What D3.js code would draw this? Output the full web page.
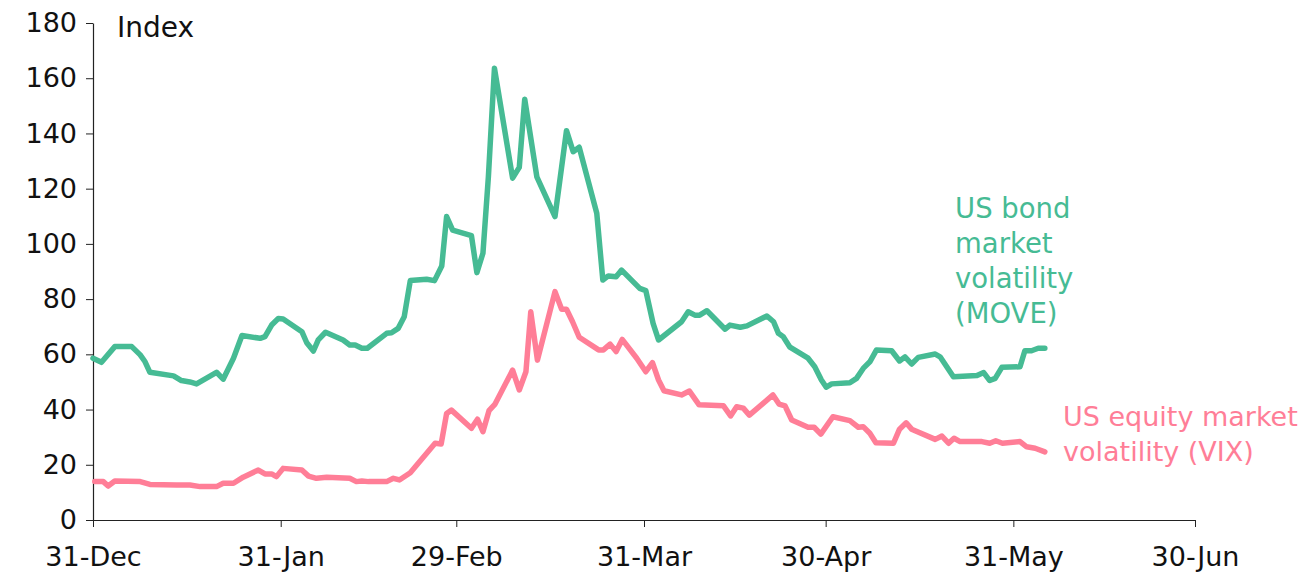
<!DOCTYPE html>
<html>
<head>
<meta charset="utf-8">
<script src="https://cdn.jsdelivr.net/npm/d3@7"></script>
<style>
  body { margin: 0; background: #fff; }
  text { font-family: "DejaVu Sans", sans-serif; }
</style>
</head>
<body>
<div id="chart"></div>
<script>
var width = 1305;
var height = 576;
var margin = {top: 23, right: 110, bottom: 56, left: 93};

// days counted from 31-Dec-2019
var startDate = "2019-12-31";
var endDate = "2020-06-30";
var tickDates = ["2019-12-31", "2020-01-31", "2020-02-29", "2020-03-31", "2020-04-30", "2020-05-31", "2020-06-30"];
var yTicks = [0, 20, 40, 60, 80, 100, 120, 140, 160, 180];

// US bond market volatility (MOVE)
var moveDays = [0, 1.4, 3.6, 6.4, 7.8, 8.6, 9.4, 13.3, 14.6, 16, 17.1, 20.4, 21.5, 23.2, 24.6, 27.6, 28.4, 29.5, 30.6, 31.4,
  34.5, 35.3, 36.4, 37.2, 38.4, 41.3, 42.4, 43.3, 44.4, 45.3, 48.5, 49.3, 50.4, 51.4, 52.4, 55.1, 56.4, 57.6, 58.4, 59.4,
  62.5, 63.4, 64.4, 65.3, 66.3, 69.3, 70.4, 71.3, 73.3, 76.3, 78.2, 79.3, 80.3, 83.2, 84.2, 85.1, 86.4, 87.3, 90.3, 91.3,
  92.5, 93.4, 97.2, 98.3, 99.4, 100.2, 101.4, 104.4, 105.2, 106.9, 108, 111.3, 112.4, 113.2, 114, 115.1, 118.1, 119.2, 120.3, 121.1,
  122, 125, 126.1, 127.2, 128.3, 129.4, 131.9, 133.2, 134.1, 135.2, 136.3, 139.1, 139.9, 142.1, 146, 147.1, 148.1, 149, 150.1, 153.1,
  153.9, 155, 156.1, 157.2];
var moveValues = [58.6, 57.1, 62.8, 62.8, 59.8, 57.3, 53.5, 52.2, 50.5, 50, 49.3, 53.5, 51, 58.6, 66.8, 65.8, 66.4, 70.6, 73, 72.8,
  68.2, 64.2, 61.2, 65.2, 68, 65.2, 63.4, 63.4, 62.2, 62.2, 67.6, 67.8, 69.4, 73.6, 86.7, 87.2, 86.7, 92, 109.9, 105,
  103, 89.6, 96.6, 124.3, 163.6, 123.8, 127.7, 152.4, 124.3, 109.9, 141, 133.4, 135, 111.1, 86.9, 88.4, 88.1, 90.5, 83.9, 83.1,
  71.2, 65.2, 71.8, 75.4, 74.2, 74.2, 75.8, 69.1, 70.6, 69.8, 70.3, 73.9, 71.8, 67.6, 66.4, 62.6, 58.6, 55.5, 50.7, 48.1,
  49.3, 49.7, 51.3, 54.9, 57.3, 61.6, 61.3, 57.6, 59.1, 56.5, 58.9, 60.1, 59.1, 51.9, 52.3, 53.4, 50.5, 51.3, 55.3, 55.5,
  61.3, 61.3, 62.2, 62.2];

// US equity market volatility (VIX)
var vixDays = [0.3, 1.7, 2.5, 3.6, 7.8, 9.4, 13.8, 16, 17.7, 20.4, 21.5, 23.2, 24.8, 27.3, 28.4, 29.5, 30.3, 31.4, 34.5, 35.6,
  36.9, 38.6, 42.4, 43.5, 44.4, 45.5, 48.5, 49.6, 50.6, 52.4, 56.5, 57.5, 58.4, 59.2, 62.5, 63.5, 64.4, 65.4, 66.4, 69.3,
  70.4, 71.5, 72.3, 73.4, 76.3, 77.4, 78.2, 79.2, 80.3, 83.5, 84.3, 85.4, 86.4, 87.4, 89.8, 91.3, 92.4, 93.4, 94.3, 97.2,
  98.5, 100.1, 104.1, 105.3, 106.3, 107.4, 108.4, 112.3, 113.3, 114.3, 115.4, 118.1, 119.1, 120.2, 122.2, 125, 126.4, 127.2, 128.3, 129.3,
  132.2, 133.2, 134.3, 135.2, 139.1, 140.2, 141.3, 142.2, 143.2, 146.8, 148.1, 149.1, 150.2, 153.1, 154.2, 155.6, 157.2];
var vixValues = [13.9, 13.9, 12.3, 14.1, 13.9, 12.9, 12.7, 12.7, 12.1, 12.1, 13.3, 13.3, 15.5, 18.1, 16.7, 16.7, 15.7, 18.7, 18.1, 15.9,
  15.1, 15.5, 15.1, 13.9, 14.1, 13.9, 13.9, 15.1, 14.5, 17.1, 27.8, 27.5, 38.6, 39.8, 33.2, 36.5, 32, 39.6, 42, 54.3,
  47.1, 53.7, 75.4, 57.9, 82.7, 76.3, 76.3, 71.8, 66.2, 61.6, 61.6, 63.7, 61, 65.4, 58.6, 53.7, 57, 50.7, 46.8, 45.3,
  46.7, 41.7, 41.4, 37.7, 41, 40.5, 38, 45.3, 42, 41.3, 36.2, 33.6, 33.6, 31.1, 37.4, 36, 33.6, 33.8, 31.4, 28,
  27.8, 32.9, 35.2, 32.9, 29.2, 30.4, 27.8, 29.6, 28.4, 28.4, 27.8, 28.7, 27.8, 28.4, 26.5, 26, 24.7];

var moveLabel = ["US bond", "market", "volatility", "(MOVE)"];
var vixLabel = ["US equity market", "volatility (VIX)"];

var moveColor = "#46bb94";
var vixColor = "#ff7e97";

var parseDate = d3.utcParse("%Y-%m-%d");
var base = parseDate(startDate);
function dayToDate(d) { return new Date(base.getTime() + d * 864e5); }

var svg = d3.select("#chart")
  .append("svg")
    .attr("width", width)
    .attr("height", height);

var x = d3.scaleUtc()
  .domain([base, parseDate(endDate)])
  .range([margin.left, width - margin.right]);

var y = d3.scaleLinear()
  .domain([0, 180])
  .range([height - margin.bottom, margin.top]);

// y axis
var yAxis = svg.append("g")
  .attr("transform", "translate(" + margin.left + ",0)")
  .call(d3.axisLeft(y).tickValues(yTicks).tickSize(7).tickSizeOuter(0).tickPadding(9));
yAxis.select(".domain").attr("stroke", "#222").attr("stroke-width", 1.2);
yAxis.selectAll(".tick line").attr("stroke", "#222");
yAxis.selectAll("text").attr("font-size", 27).attr("fill", "#111")
  .style("font-family", "'DejaVu Sans', sans-serif");

// x axis
var xAxis = svg.append("g")
  .attr("transform", "translate(0," + (height - margin.bottom) + ")")
  .call(d3.axisBottom(x)
    .tickValues(tickDates.map(parseDate))
    .tickFormat(d3.utcFormat("%-d-%b"))
    .tickSize(7).tickSizeOuter(0).tickPadding(20));
xAxis.select(".domain").attr("stroke", "#222").attr("stroke-width", 1.2);
xAxis.selectAll(".tick line").attr("stroke", "#222");
xAxis.selectAll("text").attr("font-size", 27).attr("fill", "#111")
  .style("font-family", "'DejaVu Sans', sans-serif");

svg.append("text")
  .attr("x", 117)
  .attr("y", 37)
  .attr("font-size", 28)
  .attr("fill", "#111")
  .text("Index");

var line = d3.line()
  .x(function(d) { return x(dayToDate(d[0])); })
  .y(function(d) { return y(d[1]); });

var moveData = d3.zip(moveDays, moveValues);
var vixData = d3.zip(vixDays, vixValues);

svg.append("path")
  .datum(vixData)
  .attr("d", line)
  .attr("fill", "none")
  .attr("stroke", vixColor)
  .attr("stroke-width", 5.5)
  .attr("stroke-linejoin", "round")
  .attr("stroke-linecap", "round");

svg.append("path")
  .datum(moveData)
  .attr("d", line)
  .attr("fill", "none")
  .attr("stroke", moveColor)
  .attr("stroke-width", 5.5)
  .attr("stroke-linejoin", "round")
  .attr("stroke-linecap", "round");

// series labels
svg.append("g").selectAll("text")
  .data(moveLabel)
  .join("text")
    .attr("x", 955)
    .attr("y", function(d, i) { return 218 + i * 35; })
    .attr("font-size", 27.5)
    .attr("fill", moveColor)
    .text(function(d) { return d; });

svg.append("g").selectAll("text")
  .data(vixLabel)
  .join("text")
    .attr("x", 1063)
    .attr("y", function(d, i) { return 426 + i * 35; })
    .attr("font-size", 27)
    .attr("fill", vixColor)
    .text(function(d) { return d; });
</script>
</body>
</html>
